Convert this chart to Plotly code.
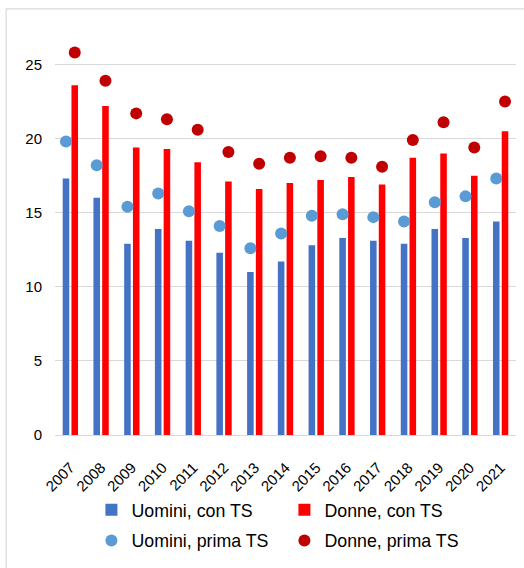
import plotly.graph_objects as go

years = ["2007", "2008", "2009", "2010", "2011", "2012", "2013", "2014",
         "2015", "2016", "2017", "2018", "2019", "2020", "2021"]
uomini_con_ts = [17.3, 16.0, 12.9, 13.9, 13.1, 12.3, 11.0, 11.7, 12.8, 13.3, 13.1, 12.9, 13.9, 13.3, 14.4]
donne_con_ts = [23.6, 22.2, 19.4, 19.3, 18.4, 17.1, 16.6, 17.0, 17.2, 17.4, 16.9, 18.7, 19.0, 17.5, 20.5]
uomini_prima_ts = [19.8, 18.2, 15.4, 16.3, 15.1, 14.1, 12.6, 13.6, 14.8, 14.9, 14.7, 14.4, 15.7, 16.1, 17.3]
donne_prima_ts = [25.8, 23.9, 21.7, 21.3, 20.6, 19.1, 18.3, 18.7, 18.8, 18.7, 18.1, 19.9, 21.1, 19.4, 22.5]

FONT = "Liberation Sans"

fig = go.Figure()
fig.add_trace(go.Bar(x=years, y=uomini_con_ts, name="Uomini, con TS",
                     marker=dict(color="#4472C4", line=dict(width=0)),
                     offsetgroup="u", legend="legend"))
fig.add_trace(go.Bar(x=years, y=donne_con_ts, name="Donne, con TS",
                     marker=dict(color="#FF0000", line=dict(width=0)),
                     offsetgroup="d", legend="legend"))
fig.add_trace(go.Scatter(x=years, y=uomini_prima_ts, name="Uomini, prima TS", mode="markers",
                         marker=dict(color="#5B9BD5", size=12),
                         offsetgroup="u", legend="legend2"))
fig.add_trace(go.Scatter(x=years, y=donne_prima_ts, name="Donne, prima TS", mode="markers",
                         marker=dict(color="#C00000", size=12),
                         offsetgroup="d", legend="legend2"))

legend_common = dict(orientation="h", xanchor="left", yanchor="middle",
                     entrywidth=148, entrywidthmode="pixels",
                     font=dict(family=FONT, size=17.8, color="#000000"),
                     bgcolor="rgba(0,0,0,0)", itemwidth=30)

fig.update_layout(
    width=524, height=568,
    margin=dict(l=55, r=8, t=20, b=133),
    paper_bgcolor="white", plot_bgcolor="white",
    barmode="group", bargap=0.43, bargroupgap=0.25,
    scattermode="group", scattergap=0.43,
    font=dict(family=FONT, size=15, color="#000000"),
    showlegend=True,
    legend=dict(x=0.079, y=-0.181, **legend_common),
    legend2=dict(x=0.079, y=-0.255, **legend_common),
    xaxis=dict(tickangle=-45, showgrid=False, showline=False, ticks="",
               automargin=False, ticklabelstandoff=20,
               tickfont=dict(family=FONT, size=15, color="#000000")),
    yaxis=dict(range=[0, 28], tickvals=[0, 5, 10, 15, 20, 25],
               showgrid=True, gridcolor="#d9d9d9", gridwidth=1,
               zeroline=True, zerolinecolor="#d9d9d9", zerolinewidth=1,
               showline=False, ticks="", ticklabelstandoff=12, automargin=False,
               tickfont=dict(family=FONT, size=15, color="#000000")),
    shapes=[dict(type="rect", xref="paper", yref="paper",
                 x0=-0.106, x1=1.3, y0=-0.5, y1=1.027,
                 line=dict(color="#d9d9d9", width=1.2), fillcolor="rgba(0,0,0,0)",
                 layer="below")],
)

fig.write_html("out.html", config={"displayModeBar": False},
               post_script="document.body.style.margin='0';document.body.style.overflow='hidden';")
